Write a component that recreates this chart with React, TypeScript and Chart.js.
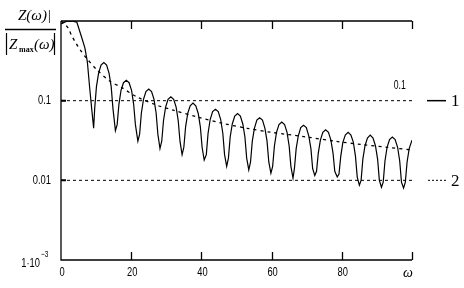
import { useEffect, useRef } from "react";
import { Chart, registerables } from "chart.js";

Chart.register(...registerables);

// ---- data ----
const xTicks = [0, 20, 40, 60, 80, 100];
const xTickLabels = ["0", "20", "40", "60", "80", "ω"];
const yTicks = [0.1, 0.01, 0.001];
const yTickLabels = ["0.1", "0.01", "1·10"];
const yTickExponent = ["", "", "−3"];
const refLevels = [0.1, 0.01];
const refLabel = "0.1";
const legendLabels = ["1", "2"];
const titleNumerator = "Z(ω)|";
const titleDenominator = ["Z", "max", "(ω)"];

// curve 1 (solid, oscillating)
const curve1Omega = [
  0, 1.5, 3.0, 4.5, 5.9, 6.8, 7.5, 8.2, 8.8, 9.3,
  9.6, 10.1, 10.7, 11.4, 12.2, 13.0, 13.7, 14.3, 14.8, 15.5,
  16.0, 16.5, 17.1, 17.8, 18.6, 19.4, 20.1, 20.7, 21.2, 21.9,
  22.4, 22.9, 23.5, 24.2, 25.0, 25.8, 26.5, 27.1, 27.6, 28.2,
  28.7, 29.2, 29.8, 30.5, 31.3, 32.1, 32.8, 33.4, 33.9, 34.5,
  35.0, 35.5, 36.1, 36.8, 37.6, 38.4, 39.1, 39.7, 40.2, 40.8,
  41.4, 41.9, 42.5, 43.2, 44.0, 44.8, 45.5, 46.1, 46.6, 47.2,
  47.7, 48.2, 48.8, 49.5, 50.3, 51.1, 51.8, 52.4, 52.9, 53.5,
  54.0, 54.5, 55.1, 55.8, 56.6, 57.4, 58.1, 58.7, 59.2, 59.8,
  60.3, 60.8, 61.4, 62.1, 62.9, 63.7, 64.4, 65.0, 65.5, 66.1,
  66.5, 67.0, 67.6, 68.3, 69.1, 69.9, 70.6, 71.2, 71.7, 72.3,
  72.8, 73.3, 73.9, 74.6, 75.4, 76.2, 76.9, 77.5, 78.0, 78.7,
  79.2, 79.7, 80.3, 81.0, 81.8, 82.6, 83.3, 83.9, 84.4, 85.0,
  85.5, 86.0, 86.6, 87.3, 88.1, 88.9, 89.6, 90.2, 90.7, 91.3,
  91.8, 92.3, 92.9, 93.6, 94.4, 95.2, 95.9, 96.5, 97.0, 97.6,
  98.1, 98.6, 99.2, 100,
];
const curve1Value = [
  0.92, 0.99, 1.0, 0.97, 0.62, 0.46, 0.31, 0.14, 0.075, 0.045,
  0.08, 0.15, 0.22, 0.28, 0.30, 0.28, 0.22, 0.15, 0.08, 0.042,
  0.05, 0.09, 0.135, 0.168, 0.18, 0.168, 0.135, 0.09, 0.05, 0.031,
  0.038, 0.07, 0.104, 0.13, 0.14, 0.13, 0.104, 0.07, 0.038, 0.025,
  0.031, 0.056, 0.083, 0.104, 0.112, 0.104, 0.083, 0.056, 0.031, 0.021,
  0.026, 0.047, 0.069, 0.086, 0.093, 0.086, 0.069, 0.047, 0.026, 0.018,
  0.021, 0.039, 0.058, 0.073, 0.078, 0.073, 0.058, 0.039, 0.021, 0.015,
  0.019, 0.035, 0.051, 0.064, 0.069, 0.064, 0.051, 0.035, 0.019, 0.0135,
  0.017, 0.031, 0.045, 0.057, 0.061, 0.057, 0.045, 0.031, 0.017, 0.0123,
  0.015, 0.027, 0.04, 0.05, 0.054, 0.05, 0.04, 0.027, 0.015, 0.0107,
  0.014, 0.025, 0.036, 0.046, 0.049, 0.046, 0.036, 0.025, 0.014, 0.0115,
  0.013, 0.022, 0.032, 0.04, 0.043, 0.04, 0.032, 0.022, 0.013, 0.011,
  0.012, 0.02, 0.03, 0.037, 0.04, 0.037, 0.03, 0.02, 0.011, 0.0087,
  0.01, 0.0185, 0.027, 0.034, 0.037, 0.034, 0.027, 0.0185, 0.01, 0.0082,
  0.0095, 0.0175, 0.026, 0.0325, 0.035, 0.0325, 0.026, 0.0175, 0.0095, 0.008,
  0.0095, 0.017, 0.025, 0.032,
];

// curve 2 (dotted, smooth decay)
const curve2Omega = [0, 1, 2, 3, 4, 5.4, 7.3, 10.4, 14, 17.3, 21.5, 27.2, 32, 39, 46, 53, 60, 70, 78, 86, 93, 100];
const curve2Value = [1.0, 0.92, 0.82, 0.66, 0.55, 0.44, 0.34, 0.24, 0.175, 0.146, 0.112, 0.088, 0.076, 0.062, 0.052, 0.045, 0.040, 0.035, 0.031, 0.028, 0.026, 0.024];

const X_MIN = 0;
const X_MAX = 100;
const Y_MIN = 0.001;
const Y_MAX = 1;

function narrowText(
  ctx: CanvasRenderingContext2D,
  text: string,
  x: number,
  y: number,
  size: number,
  align: "left" | "center" | "right",
  sx = 0.72,
  font = '"Liberation Sans"'
) {
  ctx.save();
  ctx.font = `${size}px ${font}`;
  ctx.textBaseline = "middle";
  ctx.textAlign = "left";
  const w = ctx.measureText(text).width * sx;
  const left = align === "center" ? x - w / 2 : align === "right" ? x - w : x;
  ctx.translate(left, y);
  ctx.scale(sx, 1);
  ctx.fillText(text, 0, 0);
  ctx.restore();
}

const framePlugin = {
  id: "frame",
  afterDraw(chart: any) {
    const ctx: CanvasRenderingContext2D = chart.ctx;
    const { left, right, top, bottom } = chart.chartArea;
    const xs = chart.scales.x;
    const ys = chart.scales.y;
    ctx.save();
    ctx.strokeStyle = "#000";
    ctx.fillStyle = "#000";
    ctx.lineWidth = 1.3;
    // axes: left, bottom, top
    ctx.beginPath();
    ctx.moveTo(left, top);
    ctx.lineTo(left, bottom);
    ctx.lineTo(right, bottom);
    ctx.moveTo(left, top);
    ctx.lineTo(right, top);
    ctx.stroke();
    // x ticks inward (bottom and top)
    ctx.beginPath();
    xTicks.forEach((v) => {
      if (v === X_MIN) return;
      const px = Math.round(xs.getPixelForValue(v)) + 0.5;
      ctx.moveTo(px, bottom);
      ctx.lineTo(px, bottom - 8);
      ctx.moveTo(px, top);
      ctx.lineTo(px, top + 8);
    });
    ctx.stroke();
    // y ticks inward
    ctx.lineWidth = 2;
    ctx.beginPath();
    refLevels.forEach((v) => {
      const py = ys.getPixelForValue(v);
      ctx.moveTo(left, py);
      ctx.lineTo(left + 5, py);
    });
    ctx.stroke();

    // x tick labels
    xTicks.forEach((v, i) => {
      const px = xs.getPixelForValue(v);
      if (xTickLabels[i] === "ω") {
        ctx.save();
        ctx.font = 'italic 14px "Liberation Serif"';
        ctx.textAlign = "center";
        ctx.textBaseline = "middle";
        ctx.fillText("ω", px - 4, bottom + 13);
        ctx.restore();
      } else {
        narrowText(ctx, xTickLabels[i], px + 1, bottom + 12, 13, "center");
      }
    });
    // y tick labels
    yTicks.forEach((v, i) => {
      const py = ys.getPixelForValue(v);
      if (yTickExponent[i]) {
        narrowText(ctx, yTickLabels[i], left - 21, py + 3, 13, "right");
        narrowText(ctx, yTickExponent[i], left - 20, py - 5, 9, "left");
      } else {
        narrowText(ctx, yTickLabels[i], left - 10, py, 13, "right");
      }
    });
    // label "0.1" near right end of reference line
    narrowText(ctx, refLabel, xs.getPixelForValue(96.5), ys.getPixelForValue(0.1) - 15, 12, "center");

    // legend on the right
    const y1 = ys.getPixelForValue(refLevels[0]);
    const y2 = ys.getPixelForValue(refLevels[1]);
    ctx.lineWidth = 1.5;
    ctx.beginPath();
    ctx.moveTo(427, y1);
    ctx.lineTo(446, y1);
    ctx.stroke();
    ctx.lineWidth = 1;
    ctx.setLineDash([2, 2]);
    ctx.beginPath();
    ctx.moveTo(428, y2);
    ctx.lineTo(446, y2);
    ctx.stroke();
    ctx.setLineDash([]);
    ctx.font = '17px "Liberation Serif"';
    ctx.textAlign = "left";
    ctx.textBaseline = "middle";
    ctx.fillText(legendLabels[0], 451, y1 + 1);
    ctx.fillText(legendLabels[1], 451, y2 + 1);

    // title (fraction)
    ctx.font = 'italic 15px "Liberation Serif"';
    ctx.textAlign = "left";
    ctx.textBaseline = "alphabetic";
    ctx.fillText(titleNumerator, 18, 20);
    ctx.lineWidth = 1.5;
    ctx.beginPath();
    ctx.moveTo(5, 29.5);
    ctx.lineTo(56, 29.5);
    ctx.stroke();
    // denominator
    ctx.lineWidth = 1.2;
    ctx.beginPath();
    ctx.moveTo(6.5, 33);
    ctx.lineTo(6.5, 55);
    ctx.moveTo(54.5, 33);
    ctx.lineTo(54.5, 55);
    ctx.stroke();
    ctx.font = 'italic 15px "Liberation Serif"';
    ctx.fillText(titleDenominator[0], 9, 49);
    ctx.font = 'bold 8px "Liberation Serif"';
    ctx.fillText(titleDenominator[1], 19, 52);
    ctx.font = 'italic 15px "Liberation Serif"';
    ctx.fillText(titleDenominator[2], 34, 49);
    ctx.restore();
  },
};

export default function App() {
  const ref = useRef<HTMLCanvasElement | null>(null);
  useEffect(() => {
    document.body.style.margin = "0";
    document.body.style.background = "#fff";
    const canvas = ref.current!;
    const curve1 = curve1Omega.map((x, i) => ({ x, y: curve1Value[i] }));
    const curve2 = curve2Omega.map((x, i) => ({ x, y: curve2Value[i] }));
    const refSets = refLevels.map((lv) => ({
      data: [
        { x: X_MIN, y: lv },
        { x: X_MAX, y: lv },
      ],
      borderColor: "#000",
      borderWidth: 1,
      borderDash: [3, 3],
      pointRadius: 0,
      fill: false,
    }));
    const chart = new Chart(canvas, {
      type: "line",
      data: {
        datasets: [
          {
            data: curve1,
            borderColor: "#000",
            borderWidth: 1.2,
            pointRadius: 0,
            tension: 0,
            fill: false,
          },
          {
            data: curve2,
            borderColor: "#000",
            borderWidth: 1.3,
            borderDash: [3, 4],
            pointRadius: 0,
            tension: 0.3,
            fill: false,
          },
          ...refSets,
        ] as any,
      },
      options: {
        animation: false,
        responsive: false,
        devicePixelRatio: 1,
        parsing: false as any,
        layout: { padding: { left: 61, right: 52, top: 21, bottom: 28 } },
        plugins: { legend: { display: false }, tooltip: { enabled: false }, title: { display: false } },
        scales: {
          x: { type: "linear", min: X_MIN, max: X_MAX, display: false },
          y: { type: "logarithmic", min: Y_MIN, max: Y_MAX, display: false },
        },
      },
      plugins: [framePlugin],
    });
    return () => chart.destroy();
  }, []);
  return (
    <div style={{ position: "fixed", left: 0, top: 0, width: 464, height: 288, background: "#fff" }}>
      <canvas ref={ref} width={464} height={288} style={{ display: "block", width: 464, height: 288 }} />
    </div>
  );
}
